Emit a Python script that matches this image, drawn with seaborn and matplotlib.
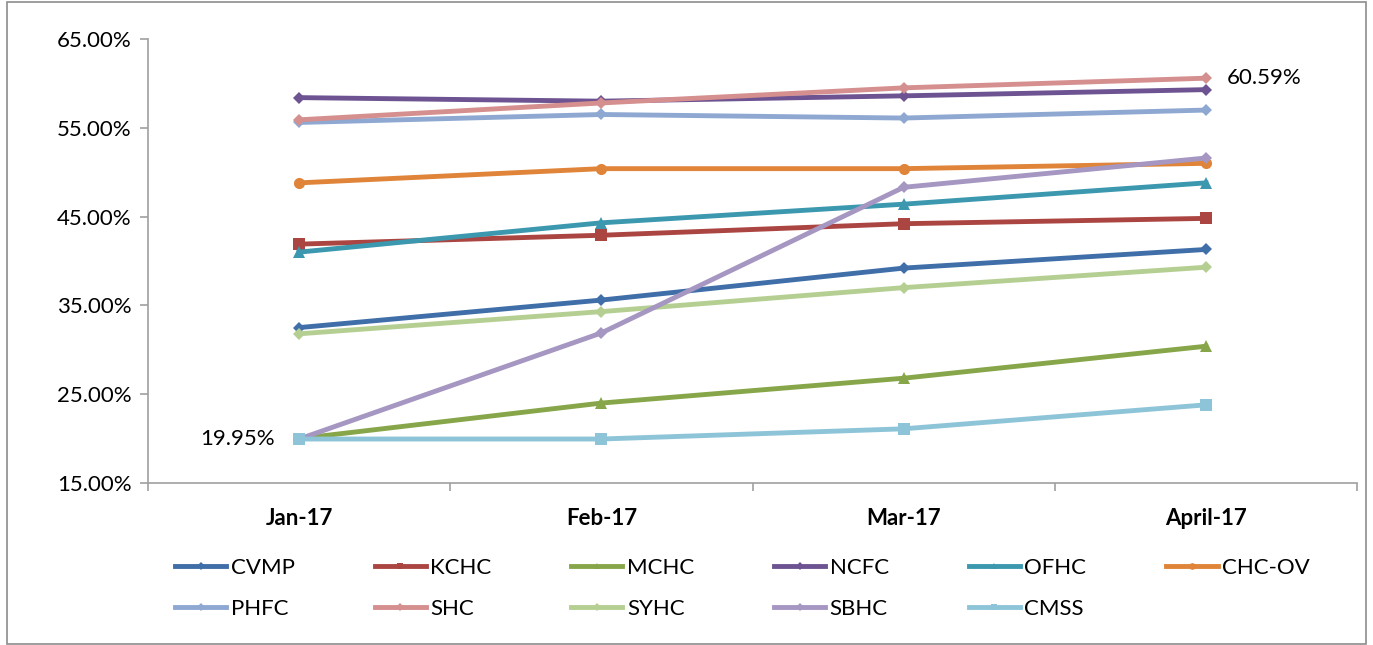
import pandas as pd
import matplotlib
matplotlib.use("Agg")
import matplotlib.pyplot as plt
import seaborn as sns
from matplotlib.patches import Rectangle

months = ["Jan-17", "Feb-17", "Mar-17", "April-17"]

cvmp = [32.5, 35.6, 39.2, 41.3]
kchc = [41.9, 42.9, 44.2, 44.8]
mchc = [20.0, 24.0, 26.8, 30.4]
ncfc = [58.4, 58.0, 58.6, 59.3]
ofhc = [41.0, 44.3, 46.4, 48.8]
chc_ov = [48.8, 50.4, 50.4, 51.0]
phfc = [55.6, 56.5, 56.1, 57.0]
shc = [55.9, 57.8, 59.5, 60.59]
syhc = [31.8, 34.3, 37.0, 39.3]
sbhc = [19.95, 31.9, 48.3, 51.6]
cmss = [19.95, 19.95, 21.1, 23.8]

series = {
    "CVMP": cvmp, "KCHC": kchc, "MCHC": mchc, "NCFC": ncfc, "OFHC": ofhc,
    "CHC-OV": chc_ov, "PHFC": phfc, "SHC": shc, "SYHC": syhc, "SBHC": sbhc,
    "CMSS": cmss,
}

colores = {
    "CVMP": "#3f6ea8", "KCHC": "#ab4542", "MCHC": "#87a64a", "NCFC": "#6d5391",
    "OFHC": "#3b98ae", "CHC-OV": "#df8438", "PHFC": "#8ea8d2", "SHC": "#d48f8e",
    "SYHC": "#b5cf93", "SBHC": "#a596c2", "CMSS": "#8ec4d8",
}
marcadores = {
    "CVMP": "D", "KCHC": "s", "MCHC": "^", "NCFC": "D", "OFHC": "^",
    "CHC-OV": "o", "PHFC": "D", "SHC": "D", "SYHC": "D", "SBHC": "D",
    "CMSS": "s",
}

plt.rcParams['font.family'] = ['Lato', 'DejaVu Sans']

fig = plt.figure(figsize=(13.73, 6.45), dpi=100)
ax = fig.add_axes([0.1078, 0.2512, 0.8806, 0.6883])

for nombre, valores in series.items():
    df = pd.DataFrame({"mes": range(len(months)), "valor": valores})
    sns.lineplot(x="mes", y="valor", data=df, ax=ax, color=colores[nombre],
                 marker=marcadores[nombre], markersize=8 if marcadores[nombre] != "D" else 6.5,
                 markeredgewidth=0, linewidth=3.5, label=nombre)

ax.set_xlim(-0.5, 3.5)
ax.set_ylim(15, 65)
ax.set_yticks([15, 25, 35, 45, 55, 65])
ax.set_yticklabels([f"{v:.2f}%" for v in [15, 25, 35, 45, 55, 65]], fontsize=16)
ax.set_xticks(range(len(months)))
ax.set_xticklabels(months, fontsize=16, fontweight="bold")
ax.set_xticks([-0.5, 0.5, 1.5, 2.5, 3.5], minor=True)
ax.tick_params(axis="x", which="major", length=0, pad=18)
ax.tick_params(axis="x", which="minor", length=6, color="#a0a0a0", width=1.2)
ax.tick_params(axis="y", length=6, color="#a0a0a0", width=1.2, pad=6)
ax.set_xlabel("")
ax.set_ylabel("")
for lado in ["top", "right"]:
    ax.spines[lado].set_visible(False)
for lado in ["left", "bottom"]:
    ax.spines[lado].set_color("#a0a0a0")
    ax.spines[lado].set_linewidth(1.2)

# Etiquetas de datos
ax.text(-0.08, sbhc[0], "19.95%", ha="right", va="center", fontsize=16)
ax.text(3.07, shc[3], "60.59%", ha="left", va="center", fontsize=16)

# Leyenda por filas (matplotlib llena por columnas)
handles, labels = ax.get_legend_handles_labels()
ax.get_legend().remove()
orden = []
for c in range(6):
    orden.append(c)
    if c + 6 < len(handles):
        orden.append(c + 6)
fig.legend([handles[i] for i in orden], [labels[i] for i in orden], ncol=6,
           loc="upper left", bbox_to_anchor=(0.113, 0.166),
           frameon=False, fontsize=16, handlelength=2.3, columnspacing=3.6,
           handletextpad=0.2, labelspacing=0.95, markerscale=0.6)

fig.add_artist(Rectangle((0.005, 0.002), 0.99, 0.995, transform=fig.transFigure,
                         fill=False, edgecolor="#8c8c8c", linewidth=1.2))

plt.savefig("out.png", dpi=100)
